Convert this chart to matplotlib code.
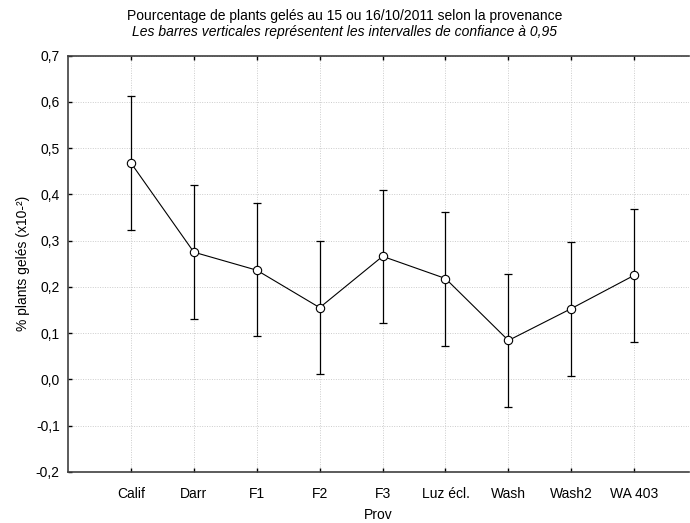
import numpy as np
import matplotlib.pyplot as plt
from matplotlib.ticker import FuncFormatter

plt.rcParams['font.family'] = ['Liberation Sans', 'DejaVu Sans']

# provenances et pourcentages moyens (x10-2) avec IC 95 %
prov = ['Calif', 'Darr', 'F1', 'F2', 'F3', 'Luz écl.', 'Wash', 'Wash2', 'WA 403']
moyenne = [0.468, 0.275, 0.236, 0.155, 0.266, 0.218, 0.084, 0.153, 0.225]
ic_bas = [0.323, 0.131, 0.093, 0.011, 0.121, 0.073, -0.061, 0.008, 0.080]
ic_haut = [0.613, 0.420, 0.381, 0.299, 0.410, 0.361, 0.227, 0.297, 0.369]

x = np.arange(len(prov))
moyenne = np.array(moyenne)
err = [moyenne - np.array(ic_bas), np.array(ic_haut) - moyenne]

fig = plt.figure(figsize=(6.9, 5.23), dpi=100)
ax = fig.add_axes([0.0986, 0.098, 0.9985 - 0.0986, 0.8935 - 0.098])

ax.errorbar(x, moyenne, yerr=err, fmt='none', ecolor='black',
            elinewidth=0.9, capsize=3, capthick=0.9, zorder=3)
ax.plot(x, moyenne, color='black', linewidth=0.8, marker='o',
        markersize=6, markerfacecolor='white', markeredgecolor='black',
        markeredgewidth=0.8, zorder=4)

ax.set_xlim(-1, 8.87)
ax.set_ylim(-0.2, 0.7)
ax.set_xticks(x)
ax.set_xticklabels(prov)
ax.set_yticks(np.arange(-0.2, 0.71, 0.1))
ax.yaxis.set_major_formatter(FuncFormatter(lambda v, p: f'{v:.1f}'.replace('.', ',').replace('-0,0', '0,0')))

ax.grid(True, color='#cccccc', linestyle=(0, (1, 1.5)), linewidth=0.7)
ax.set_axisbelow(True)
ax.tick_params(direction='in', length=3, width=1, labelsize=10, colors='black',
               top=True)
ax.tick_params(axis='x', pad=11)
ax.tick_params(axis='y', pad=6)

for s in ['left', 'bottom', 'top']:
    ax.spines[s].set_linewidth(1.2)
    ax.spines[s].set_color('#404040')
ax.spines['right'].set_visible(False)

ax.set_xlabel('Prov', fontsize=10, labelpad=5)
ax.set_ylabel('% plants gelés (x10-²)', fontsize=10, labelpad=4)

fig.text(0.5, 0.969, 'Pourcentage de plants gelés au 15 ou 16/10/2011 selon la provenance',
         ha='center', va='center', fontsize=10)
fig.text(0.5, 0.939, 'Les barres verticales représentent les intervalles de confiance à 0,95',
         ha='center', va='center', fontsize=10, style='italic')

fig.savefig('out.png', dpi=100)
